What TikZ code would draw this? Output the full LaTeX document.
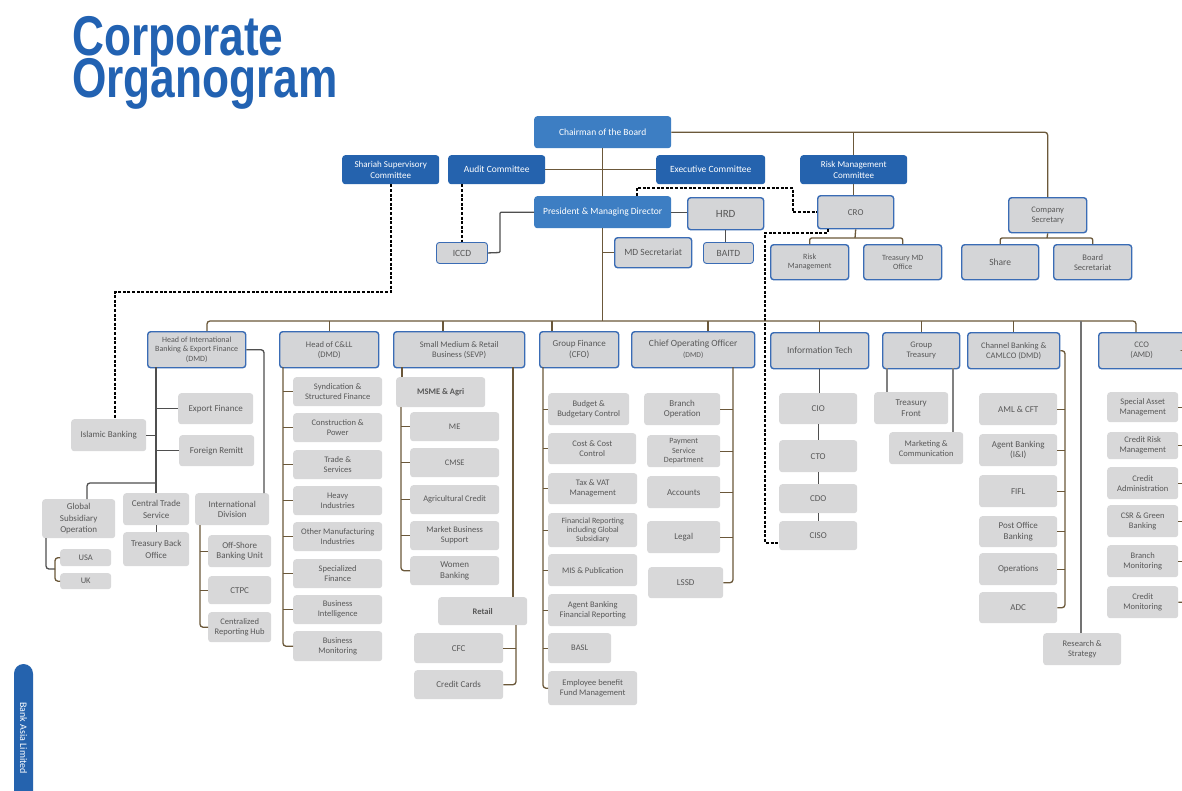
\documentclass[tikz,border=0pt]{standalone}
\usepackage{fontspec}
\setmainfont{Carlito}
\newfontfamily\titlefont{Liberation Sans}
\definecolor{blueD}{HTML}{2563AE}
\definecolor{blueL}{HTML}{3D7EC3}
\definecolor{grayF}{HTML}{D4D5D7}
\definecolor{grayP}{HTML}{D8D8D9}
\definecolor{bord}{HTML}{3A6CB5}
\definecolor{brn}{HTML}{6B583A}
\definecolor{lgry}{HTML}{4F4F4F}
\definecolor{txt}{HTML}{585858}
\definecolor{titleC}{HTML}{2262B2}
\newcommand\bx[8][]{\node[#2,anchor=north west,minimum width={#6-#4},minimum height={#7-#5},#1] (#3) at (#4,#5) {#8};}
\tikzset{
 bb/.style={fill=blueD, text=white, rounded corners=3pt, inner sep=1pt, align=center, font=\fontsize{9.5}{11}\selectfont},
 bl/.style={bb, fill=blueL},
 gb/.style={fill=grayF, draw=bord, line width=1.4pt, rounded corners=3pt, text=txt, inner sep=1pt, align=center, font=\fontsize{9.5}{11}\selectfont},
 gbt/.style={gb, line width=0.9pt},
 gp/.style={fill=grayP, rounded corners=3pt, text=txt, inner sep=1pt, align=center, font=\fontsize{9.5}{11}\selectfont},
 md/.style={font=\fontsize{9}{10.5}\selectfont},
 sm/.style={font=\fontsize{8.5}{10}\selectfont},
 xs/.style={font=\fontsize{8}{9.2}\selectfont},
 cn/.style={draw=brn, line width=1.3pt, rounded corners=3pt},
 cg/.style={draw=lgry, line width=1.3pt, rounded corners=3pt},
 ds/.style={draw=black, line width=1.7pt, dash pattern=on 3pt off 1.6pt},
}
\begin{document}
\begin{tikzpicture}[x=1pt,y=-1pt]
\fill[white] (0,0) rectangle (1182,790);
\useasboundingbox (0,0) rectangle (1182,790);
% title
\node[anchor=base west, inner sep=0, align=left, text=titleC, font=\titlefont\bfseries\fontsize{56}{43}\selectfont] (title) at (72,97) {\scalebox{0.79}[1]{Corporate}\\[-10pt]\scalebox{0.79}[1]{Organogram}};
% side tab
\fill[blueD, rounded corners=9.5pt] (14,664) rectangle (33,810);
\node[rotate=-90, text=white, inner sep=0, font=\fontsize{10}{11}\selectfont] (tab) at (23.5,738) {Bank Asia Limited};

% ---- top nodes
\bx{bl}{chair}{534}{116}{671}{148}{Chairman of the Board}
\bx[md]{bb}{shar}{342}{155}{439}{184}{Shariah Supervisory\\Committee}
\bx{bb}{audit}{448}{155}{545}{184}{Audit Committee}
\bx{bb}{exec}{656}{155}{765}{184}{Executive Committee}
\bx[md]{bb}{rmc}{800}{155}{907}{184}{Risk Management\\Committee}
\bx{bl}{pres}{534}{196}{671}{228}{President \& Managing Director}
\bx[font=\fontsize{11}{12}\selectfont]{gb}{hrd}{687}{197}{763}{229}{HRD}
\bx{gbt}{baitd}{703}{242}{753}{263}{BAITD}
\bx{gb}{mdsec}{614}{237}{691}{267}{MD Secretariat}
\bx{gbt}{iccd}{436}{242}{487}{263}{ICCD}
\bx[md]{gb}{cro}{817}{195}{893}{228}{CRO}
\bx[xs]{gb}{riskm}{770}{244}{848}{279}{Risk\\Management}
\bx[xs]{gb}{tmd}{863}{244}{941}{279}{Treasury MD\\Office}
\bx[sm]{gb}{cs}{1008}{197}{1086}{232}{Company\\Secretary}
\bx{gb}{share}{961}{244}{1038}{279}{Share}
\bx[sm]{gb}{bsec}{1053}{244}{1131}{279}{Board\\Secretariat}

% ---- heads
\bx[xs]{gb}{intl}{147}{331}{245}{367}{Head of International\\Banking \& Export Finance\\(DMD)}
\bx[sm]{gb}{cll}{279}{331}{378}{367}{Head of C\&LL\\(DMD)}
\bx[sm]{gb}{smrb}{393}{331}{524}{367}{Small Medium \& Retail\\Business (SEVP)}
\bx[md]{gb}{gf}{539}{331}{618}{367}{Group Finance\\(CFO)}
\bx{gb}{coo}{631}{331}{754}{367}{Chief Operating Officer\\{\fontsize{7.5}{8}\selectfont (DMD)}}
\bx{gb}{it}{770}{332}{868}{368}{Information Tech}
\bx[sm]{gb}{gt}{882}{332}{959}{368}{Group\\Treasury}
\bx[sm]{gb}{cb}{967}{332}{1059}{368}{Channel Banking \&\\CAMLCO (DMD)}
\bx[sm]{gb}{cco}{1098}{332}{1184}{368}{CCO\\(AMD)}

% ---- international branch
\bx[md]{gp}{exp}{178}{393}{253}{424}{Export Finance}
\bx[md]{gp}{isl}{71}{419}{146}{451}{Islamic Banking}
\bx[md]{gp}{frm}{179}{435}{254}{466}{Foreign Remitt}
\bx[font=\fontsize{9}{11.5}\selectfont]{gp}{glob}{42}{499}{115}{538}{Global\\Subsidiary\\Operation}
\bx[font=\fontsize{9}{11.5}\selectfont]{gp}{cts}{123}{493}{189}{525}{Central Trade\\Service}
\bx[font=\fontsize{9}{11.5}\selectfont]{gp}{tbo}{123}{532}{189}{566}{Treasury Back\\Office}
\bx[md]{gp}{intdiv}{195}{493}{269}{525}{International\\Division}
\bx[sm]{gp}{usa}{60}{549}{111}{566}{USA}
\bx[sm]{gp}{uk}{60}{573}{111}{589}{UK}
\bx[md]{gp}{osbu}{208}{535}{271}{567}{Off-Shore\\Banking Unit}
\bx[md]{gp}{ctpc}{208}{576}{271}{604}{CTPC}
\bx[sm]{gp}{crh}{208}{612}{271}{642}{Centralized\\Reporting Hub}

% ---- C&LL
\bx[sm]{gp}{c1}{293}{377}{382}{406}{Syndication \&\\Structured Finance}
\bx[sm]{gp}{c2}{293}{413}{382}{442}{Construction \&\\Power}
\bx[sm]{gp}{c3}{293}{450}{382}{479}{Trade \&\\Services}
\bx[sm]{gp}{c4}{293}{486}{382}{515}{Heavy\\Industries}
\bx[sm]{gp}{c5}{293}{522}{382}{551}{Other Manufacturing\\Industries}
\bx[sm]{gp}{c6}{293}{559}{382}{588}{Specialized\\Finance}
\bx[sm]{gp}{c7}{293}{595}{382}{624}{Business\\Intelligence}
\bx[sm]{gp}{c8}{293}{631}{382}{661}{Business\\Monitoring}

% ---- SMRB
\bx[sm]{gp}{msme}{396}{377}{485}{407}{\textbf{MSME \& Agri}}
\bx[sm]{gp}{m1}{410}{412}{499}{441}{ME}
\bx[sm]{gp}{m2}{410}{448}{499}{477}{CMSE}
\bx[sm]{gp}{m3}{410}{485}{499}{514}{Agricultural Credit}
\bx[sm]{gp}{m4}{410}{521}{499}{550}{Market Business\\Support}
\bx[md]{gp}{m5}{410}{556}{499}{585}{Women\\Banking}
\bx[sm]{gp}{retail}{438}{597}{527}{625}{\textbf{Retail}}
\bx[md]{gp}{cfc}{414}{633}{503}{663}{CFC}
\bx[md]{gp}{ccard}{414}{670}{503}{699}{Credit Cards}

% ---- Group Finance
\bx[sm]{gp}{f1}{548}{393}{629}{425}{Budget \&\\Budgetary Control}
\bx[sm]{gp}{f2}{548}{433}{636}{464}{Cost \& Cost\\Control}
\bx[sm]{gp}{f3}{548}{473}{637}{504}{Tax \& VAT\\Management}
\bx[xs]{gp}{f4}{548}{513}{637}{547}{Financial Reporting\\including Global\\Subsidiary}
\bx[sm]{gp}{f5}{548}{554}{637}{586}{MIS \& Publication}
\bx[sm]{gp}{f6}{548}{594}{637}{626}{Agent Banking\\Financial Reporting}
\bx[sm]{gp}{f7}{548}{633}{611}{663}{BASL}
\bx[sm]{gp}{f8}{548}{671}{637}{705}{Employee benefit\\Fund Management}

% ---- COO
\bx[md]{gp}{o1}{644}{393}{720}{425}{Branch\\Operation}
\bx[xs]{gp}{o2}{647}{435}{720}{467}{Payment\\Service\\Department}
\bx[md]{gp}{o3}{647}{476}{720}{508}{Accounts}
\bx[md]{gp}{o4}{647}{521}{720}{553}{Legal}
\bx[md]{gp}{o5}{648}{567}{723}{598}{LSSD}

% ---- IT
\bx[md]{gp}{cio}{779}{393}{857}{424}{CIO}
\bx[md]{gp}{cto}{779}{440}{857}{472}{CTO}
\bx[md]{gp}{cdo}{779}{484}{857}{513}{CDO}
\bx[md]{gp}{ciso}{779}{521}{857}{550}{CISO}

% ---- Group Treasury
\bx[md]{gp}{tf}{874}{392}{948}{424}{Treasury\\Front}
\bx[sm]{gp}{mc}{889}{432}{963}{464}{Marketing \&\\Communication}

% ---- Channel Banking
\bx[md]{gp}{aml}{979}{393}{1057}{425}{AML \& CFT}
\bx[md]{gp}{agb}{979}{434}{1057}{466}{Agent Banking\\(I\&I)}
\bx[md]{gp}{fifl}{979}{475}{1057}{507}{FIFL}
\bx[md]{gp}{pob}{979}{516}{1057}{547}{Post Office\\Banking}
\bx[md]{gp}{ops}{979}{553}{1057}{585}{Operations}
\bx[md]{gp}{adc}{979}{592}{1057}{623}{ADC}
\bx[sm]{gp}{rs}{1043}{633}{1121}{665}{Research \&\\Strategy}

% ---- CCO
\bx[sm]{gp}{k1}{1107}{392}{1178}{422}{Special Asset\\Management}
\bx[sm]{gp}{k2}{1107}{432}{1178}{459}{Credit Risk\\Management}
\bx[sm]{gp}{k3}{1107}{467}{1178}{499}{Credit\\Administration}
\bx[sm]{gp}{k4}{1107}{505}{1178}{537}{CSR \& Green\\Banking}
\bx[sm]{gp}{k5}{1107}{545}{1178}{577}{Branch\\Monitoring}
\bx[sm]{gp}{k6}{1107}{586}{1178}{618}{Credit\\Monitoring}

% ======== connectors
% top
\draw[cn] (chair.east) -| (cs.north);
\draw[cn] (rmc.north |- chair.east) -- (rmc.north);
\draw[cn] (rmc.south) -- (rmc.south |- cro.north);
\draw[cn] (chair.south) -- (pres.north);
\draw[cn] (audit.east) -- (exec.west);
\coordinate (croJ) at (855,238);
\draw[cn] (cro.south) -- (croJ);
\draw[cn, rounded corners=2pt] (riskm.north) |- (croJ) -| (tmd.north);
\coordinate (csJ) at (1047,238);
\draw[cn] (cs.south) -- (csJ);
\draw[cn, rounded corners=2pt] (share.north) |- (csJ) -| (bsec.north);
\coordinate (iccdK) at (500,252.5);
\draw[cg, rounded corners=1pt] (pres.west) -| (iccdK) -- (iccd.east);
\draw[cg] (pres.east) -- (pres.east -| hrd.west);
\draw[cg] (hrd.south) -- (hrd.south |- baitd.north);
\coordinate (busL) at (207,321);
\coordinate (busR) at (1136,321);
\draw[cn] (pres.south) -- (pres.south |- busL);
\draw[cn] (pres.south |- mdsec.west) -- (mdsec.west);
% dashed
\coordinate (dA) at (115,292);
\draw[ds] (shar.south) |- (dA) -- (dA |- isl.north);
\draw[ds] (iccd.north |- audit.south) -- (iccd.north);
\coordinate (dB) at (637,188);
\coordinate (dC) at (793,188);
\draw[ds] (dB |- pres.north) -- (dB) -- (dC) |- (cro.west);
\coordinate (dD) at (828,233);
\coordinate (dE) at (765,233);
\draw[ds] (dD |- cro.south) -- (dD) -- (dE) |- ([yshift=-7pt]ciso.west);
% bus
\draw[cn] (busL |- intl.north) -- (busL) -- (busR) -- (busR |- cco.north);
\draw[cn] (cll.north |- busL) -- (cll.north);
\coordinate (dS) at (443,321);
\draw[cn] (dS) -- (dS |- smrb.north);
\coordinate (dG) at (552,321);
\draw[cn] (dG) -- (dG |- gf.north);
\coordinate (dO) at (708,321);
\draw[cn] (dO) -- (dO |- coo.north);
\draw[cn] (it.north |- busL) -- (it.north);
\draw[cn] (gt.north |- busL) -- (gt.north);
\draw[cn] (cb.north |- busL) -- (cb.north);
\coordinate (dR) at (1081,321);
\draw[cg, draw=gray!90!black] (dR) -- (dR |- rs.north);
% international
\coordinate (iS) at (156,367);
\draw[cg] (iS) -- (iS |- cts.north);
\draw[cg] (iS |- exp.west) -- (exp.west);
\draw[cg] (isl.east) -- (isl.east -| iS);
\draw[cg] (iS |- frm.west) -- (frm.west);
\coordinate (gK) at (87,483);
\draw[cg] (iS |- gK) -- (gK) -- (gK |- glob.north);
\draw[cg] (cts.south) -- (tbo.north);
\coordinate (idK) at (264,0);
\draw[cg] (intl.east) -| (idK |- intdiv.north);
\coordinate (gS) at (46,538);
\coordinate (gB) at (55,569);
\draw[cg] (gS) |- (gB);
\draw[cn] (gB) |- (usa.west);
\draw[cn] (gB) |- (uk.west);
\coordinate (idS) at (200,525);
\draw[cn] (idS) |- (crh.west);
\draw[cn] (idS |- osbu.west) -- (osbu.west);
\draw[cn] (idS |- ctpc.west) -- (ctpc.west);
% C&LL
\coordinate (cS) at (283,367);
\draw[cn] (cS) |- (c8.west);
\foreach \n in {c1,c2,c3,c4,c5,c6,c7} \draw[cn] (cS |- \n.west) -- (\n.west);
% SMRB
\coordinate (sL) at (402,367);
\draw[cn] (sL) -- (sL |- msme.north);
\coordinate (mS) at (401,407);
\draw[cn] (mS) |- (m5.west);
\foreach \n in {m1,m2,m3,m4} \draw[cn] (mS |- \n.west) -- (\n.west);
\coordinate (sR) at (513,367);
\draw[cn] (sR) -- (sR |- retail.north);
\coordinate (rS) at (516,625);
\draw[cn] (rS) |- (ccard.east);
\draw[cn] (rS |- cfc.east) -- (cfc.east);
% GF
\coordinate (gfS) at (543,367);
\draw[cn] (gfS) |- (f8.west);
\foreach \n in {f1,f2,f3,f4,f5,f6,f7} \draw[cn] (gfS |- \n.west) -- (\n.west);
% COO
\coordinate (coS) at (733,367);
\draw[cn] (coS) |- (o5.east);
\foreach \n in {o1,o2,o3,o4} \draw[cn] (coS |- \n.east) -- (\n.east);
% IT
\draw[cg] (it.south) -- (it.south |- cio.north);
\draw[cg] (cio.south) -- (cto.north);
\draw[cg] (cto.south) -- (cdo.north);
\draw[cg] (cdo.south) -- (ciso.north);
% GT
\coordinate (tL) at (887,368);
\coordinate (tR) at (953,368);
\draw[cg, draw=gray] (tL) -- (tL |- tf.north);
\draw[cg, draw=gray] (tR) -- (tR |- mc.north);
% CB
\coordinate (cbK) at (1065,0);
\draw[cn] (cb.east) -| (cbK |- adc.east) -- (adc.east);
\foreach \n in {aml,agb,fifl,pob,ops} \draw[cn] (cbK |- \n.east) -- (\n.east);
% CCO
\coordinate (ccK) at (1186,0);
\draw[cn] (cco.east) -| (ccK |- k6.east) -- (k6.east);
\foreach \n in {k1,k2,k3,k4,k5} \draw[cn] (ccK |- \n.east) -- (\n.east);
\end{tikzpicture}
\end{document}
